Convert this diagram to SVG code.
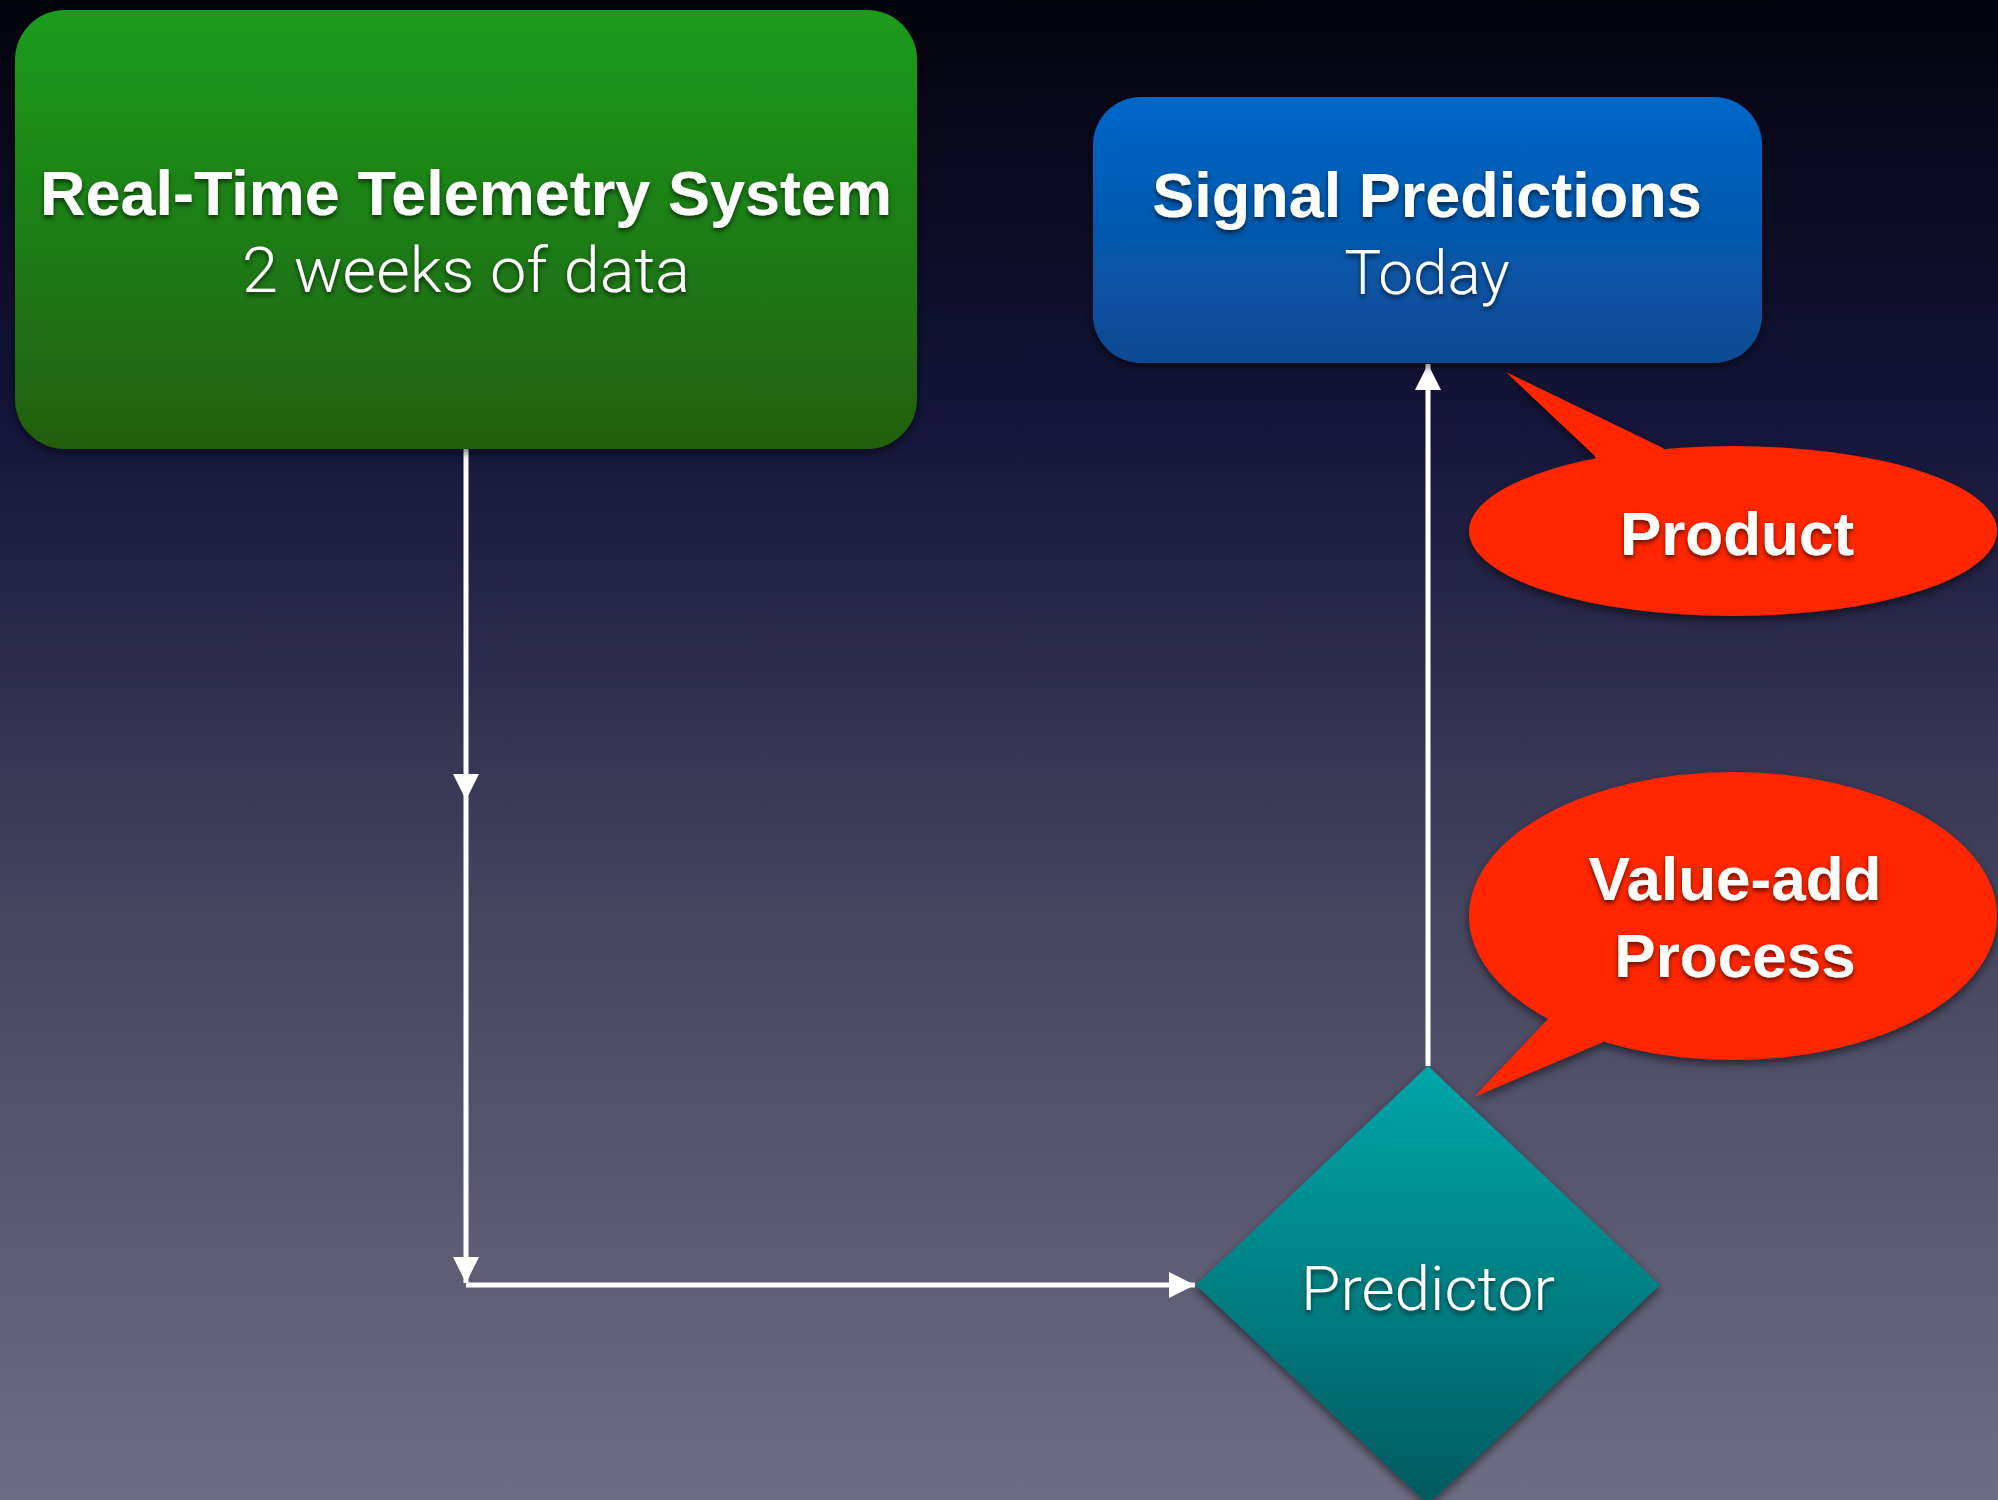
<svg xmlns="http://www.w3.org/2000/svg" width="1998" height="1500" viewBox="0 0 1998 1500">
  <defs>
    <linearGradient id="bg" x1="0" y1="0" x2="0" y2="1">
      <stop offset="0" stop-color="#03030c"/>
      <stop offset="0.28" stop-color="#14143a"/>
      <stop offset="0.6" stop-color="#45445f"/>
      <stop offset="1" stop-color="#6e6d82"/>
    </linearGradient>
    <linearGradient id="gGreen" x1="0" y1="0" x2="0" y2="1">
      <stop offset="0" stop-color="#1b9c1c"/>
      <stop offset="1" stop-color="#225f10"/>
    </linearGradient>
    <linearGradient id="gBlue" x1="0" y1="0" x2="0" y2="1">
      <stop offset="0" stop-color="#0067c8"/>
      <stop offset="1" stop-color="#0b4a92"/>
    </linearGradient>
    <linearGradient id="gTeal" x1="0" y1="0" x2="0" y2="1">
      <stop offset="0" stop-color="#02a6a9"/>
      <stop offset="1" stop-color="#005a5e"/>
    </linearGradient>
    <filter id="shapeShadow" x="-10%" y="-10%" width="120%" height="125%">
      <feDropShadow dx="0" dy="4" stdDeviation="5" flood-color="#000" flood-opacity="0.55"/>
    </filter>
    <filter id="textShadow" x="-5%" y="-20%" width="110%" height="150%">
      <feDropShadow dx="0" dy="3" stdDeviation="2.5" flood-color="#000" flood-opacity="0.6"/>
    </filter>
    <marker id="arrow" viewBox="0 0 26 26" refX="26" refY="13" markerWidth="26" markerHeight="26" markerUnits="userSpaceOnUse" orient="auto">
      <path d="M0,0 L26,13 L0,26 Z" fill="#ffffff"/>
    </marker>
    <style>
      .bold { font-family: "Liberation Sans", Arial, Helvetica, sans-serif; font-weight: bold; fill: #ffffff; text-anchor: middle; filter: url(#textShadow); }
      .light { font-family: Roboto, "Liberation Sans", Arial, sans-serif; font-weight: 300; fill: #ffffff; text-anchor: middle; filter: url(#textShadow); }
      .conn { fill: none; stroke: #ffffff; stroke-width: 5; marker-end: url(#arrow); }
      .bubble { filter: url(#shapeShadow); }
      .bubble > * { fill: #ff2600; }
    </style>
  </defs>

  <!-- backdrop -->
  <rect x="0" y="0" width="1998" height="1500" fill="url(#bg)"/>

  <!-- connectors -->
  <g id="connectors">
    <path class="conn" d="M466,449 L466,800"/>
    <path class="conn" d="M466,800 L466,1283"/>
    <path class="conn" d="M466,1285 L1195,1285"/>
    <path class="conn" d="M1428,1066 L1428,364"/>
  </g>

  <!-- telemetry source -->
  <g id="telemetry">
    <rect x="15" y="10" width="902" height="439" rx="50" ry="50" fill="url(#gGreen)" filter="url(#shapeShadow)"/>
    <text class="bold" x="466" y="215" font-size="63">Real-Time Telemetry System</text>
    <text class="light" x="466" y="292" font-size="63" textLength="448" lengthAdjust="spacingAndGlyphs">2 weeks of data</text>
  </g>

  <!-- output -->
  <g id="signal-predictions">
    <rect x="1093" y="97" width="669" height="266" rx="48" ry="48" fill="url(#gBlue)" filter="url(#shapeShadow)"/>
    <text class="bold" x="1427" y="217" font-size="63">Signal Predictions</text>
    <text class="light" x="1427" y="294" font-size="62">Today</text>
  </g>

  <!-- predictor -->
  <g id="predictor">
    <path d="M1428,1066 L1660,1285 L1428,1504 L1196,1285 Z" fill="url(#gTeal)" filter="url(#shapeShadow)"/>
    <text class="light" x="1428" y="1310" font-size="62" textLength="254" lengthAdjust="spacingAndGlyphs">Predictor</text>
  </g>

  <!-- callout: product -->
  <g id="callout-product">
    <g class="bubble">
      <ellipse cx="1733" cy="531" rx="264" ry="85"/>
      <path d="M1506,372 L1663,448 L1680,480 L1600,480 L1595,456 Z"/>
    </g>
    <text class="bold" x="1737" y="555" font-size="62">Product</text>
  </g>

  <!-- callout: value-add -->
  <g id="callout-value-add">
    <g class="bubble">
      <ellipse cx="1733" cy="916" rx="264" ry="144"/>
      <path d="M1474,1097 L1548,1019 L1570,990 L1640,1010 L1603,1042 Z"/>
    </g>
    <text class="bold" x="1735" y="900" font-size="62">Value-add</text>
    <text class="bold" x="1735" y="977" font-size="62">Process</text>
  </g>
</svg>
